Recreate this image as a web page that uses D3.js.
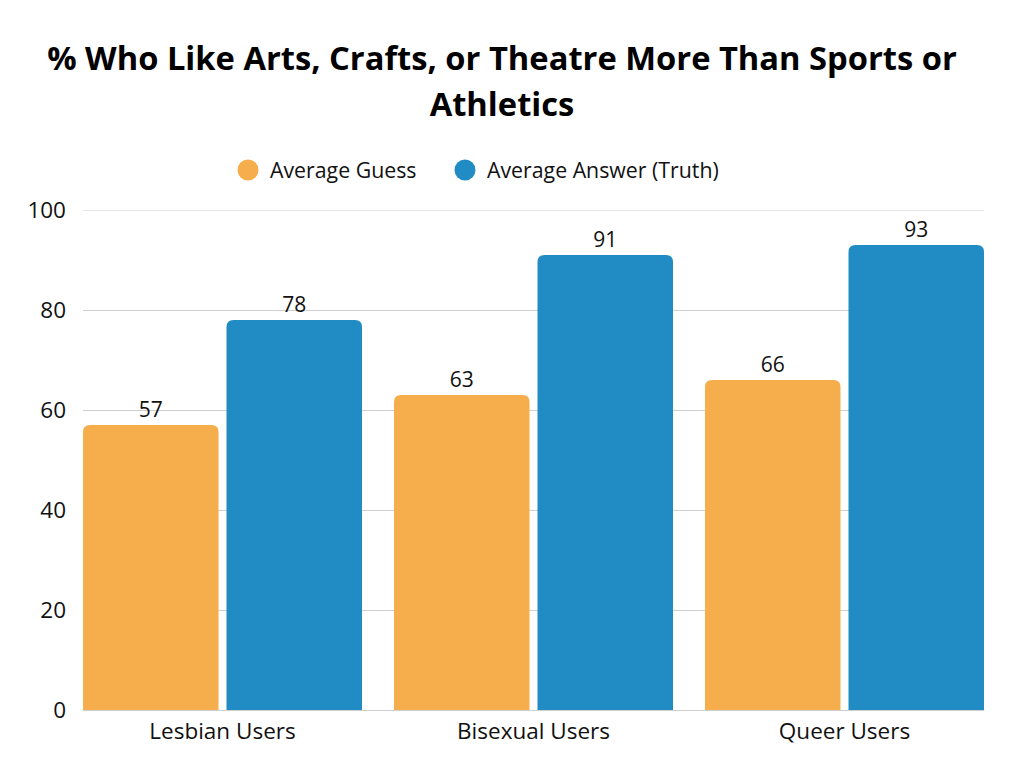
<!DOCTYPE html>
<html>
<head>
<meta charset="utf-8">
<script src="https://cdn.jsdelivr.net/npm/d3@7"></script>
<style>
  body { margin: 0; background: #fff; }
  svg { display: block; font-family: "Open Sans", sans-serif; }
</style>
</head>
<body>
<div id="chart"></div>
<script>
// Data
const categories = ['Lesbian Users', 'Bisexual Users', 'Queer Users'];
const seriesNames = ['Average Guess', 'Average Answer (Truth)'];
const guessValues = [57, 63, 66];
const truthValues = [78, 91, 93];
const yTicks = [0, 20, 40, 60, 80, 100];
const colors = ['#F6AD4C', '#218BC3'];

const WIDTH = 1024, HEIGHT = 768;
const PLOT = { left: 83, right: 984, top: 210, bottom: 710 };

const svg = d3.select('#chart').append('svg')
    .attr('width', WIDTH)
    .attr('height', HEIGHT);

// Title
const title = svg.append('text')
    .attr('text-anchor', 'middle')
    .attr('font-weight', 700)
    .attr('font-size', 32.7)
    .attr('fill', '#000');
title.append('tspan').attr('x', 502).attr('y', 70)
    .text('% Who Like Arts, Crafts, or Theatre More Than Sports or');
title.append('tspan').attr('x', 502).attr('y', 116).text('Athletics');

// Legend
const legend = svg.append('g');
const legendX = [248, 465];
seriesNames.forEach((name, i) => {
    legend.append('circle')
        .attr('cx', legendX[i]).attr('cy', 170).attr('r', 10.5)
        .attr('fill', colors[i]);
    legend.append('text')
        .attr('x', legendX[i] + 22).attr('y', 177.5)
        .attr('font-size', 21.3).attr('fill', '#111')
        .text(name);
});

// Scales
const x0 = d3.scaleBand()
    .domain(categories)
    .range([PLOT.left, PLOT.right])
    .paddingInner(32 / 311)
    .paddingOuter(0);

const x1 = d3.scaleBand()
    .domain(seriesNames)
    .range([0, x0.bandwidth()])
    .paddingInner(8 / 143.5);

const y = d3.scaleLinear()
    .domain([0, 100])
    .range([PLOT.bottom, PLOT.top]);

// Gridlines
svg.append('g')
    .selectAll('line')
    .data(yTicks)
    .enter().append('line')
    .attr('x1', PLOT.left).attr('x2', PLOT.right)
    .attr('y1', d => y(d) + 0.5).attr('y2', d => y(d) + 0.5)
    .attr('stroke', d => d === 100 ? '#e6e6e6' : '#cfcfcf')
    .attr('stroke-width', 1);

// Y axis labels
const yAxis = svg.append('g')
    .attr('transform', `translate(${PLOT.left - 17},0)`)
    .call(d3.axisLeft(y).tickValues(yTicks).tickSize(0).tickPadding(0));
yAxis.select('.domain').remove();
yAxis.selectAll('text')
    .attr('font-family', '"Open Sans", sans-serif')
    .attr('font-size', 22.5)
    .attr('fill', '#111')
    .attr('dy', '0.35em');

// X axis labels
const xAxis = svg.append('g')
    .attr('transform', `translate(0,${PLOT.bottom})`)
    .call(d3.axisBottom(x0).tickSize(0).tickPadding(0));
xAxis.select('.domain').remove();
xAxis.selectAll('text')
    .attr('font-family', '"Open Sans", sans-serif')
    .attr('font-size', 22.5)
    .attr('fill', '#111')
    .attr('dy', 0)
    .attr('y', 29);

// Bars with rounded top corners
function topRoundedRect(x, yTop, w, h, r) {
    return `M${x},${yTop + h}V${yTop + r}Q${x},${yTop} ${x + r},${yTop}` +
        `H${x + w - r}Q${x + w},${yTop} ${x + w},${yTop + r}V${yTop + h}Z`;
}

const rows = categories.map((c, i) => ({
    category: c,
    values: [guessValues[i], truthValues[i]]
}));

const groups = svg.append('g')
    .selectAll('g')
    .data(rows)
    .enter().append('g')
    .attr('transform', d => `translate(${x0(d.category)},0)`);

const bars = groups.selectAll('g')
    .data(d => d.values.map((v, j) => ({ key: seriesNames[j], value: v, idx: j })))
    .enter().append('g');

bars.append('path')
    .attr('d', d => topRoundedRect(x1(d.key), y(d.value), x1.bandwidth(), y(0) - y(d.value), 7))
    .attr('fill', d => colors[d.idx]);

bars.append('text')
    .attr('x', d => x1(d.key) + x1.bandwidth() / 2)
    .attr('y', d => y(d.value) - 8)
    .attr('text-anchor', 'middle')
    .attr('font-size', 21)
    .attr('fill', '#111')
    .text(d => d.value);
</script>
</body>
</html>
